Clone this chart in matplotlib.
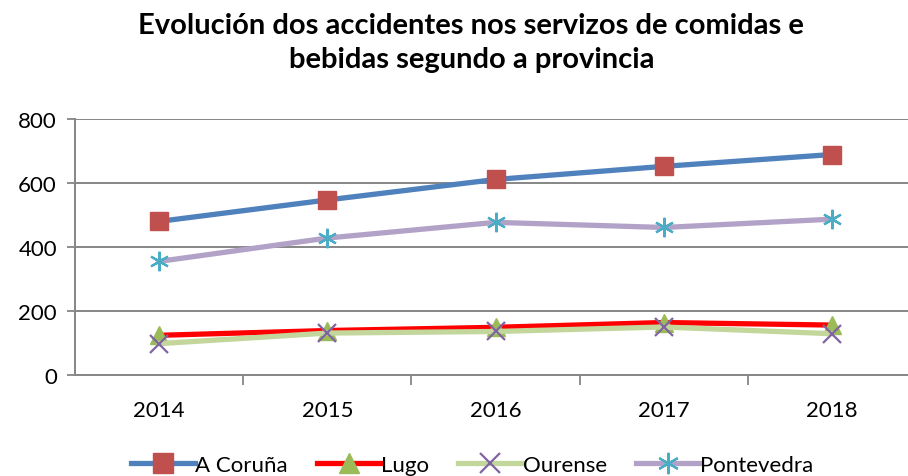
import matplotlib
matplotlib.use("Agg")
import matplotlib.pyplot as plt

# Datos
anos = ["2014", "2015", "2016", "2017", "2018"]
a_coruna = [480, 547, 611, 652, 689]
lugo = [124, 139, 149, 164, 156]
ourense = [98, 131, 136, 150, 129]
pontevedra = [355, 428, 477, 461, 487]

plt.rcParams['font.family'] = ['Lato', 'DejaVu Sans']

fig = plt.figure(figsize=(9.08, 4.77), dpi=100)
ax = fig.add_axes([75 / 908, 1 - 376 / 477, (916 - 75) / 908, 256 / 477])

x = list(range(len(anos)))
ax.plot(x, a_coruna, color='#4F81BD', lw=3.8, marker='s', ms=13,
        mfc='#C0504D', mec='#C0504D', label="A Coruña", zorder=3)
ax.plot(x, lugo, color='#FF0000', lw=3.8, marker='^', ms=13,
        mfc='#9BBB59', mec='#9BBB59', label="Lugo", zorder=3)
ax.plot(x, ourense, color='#C3D69B', lw=3.8, marker='x', ms=13, mew=1.6,
        mfc='#8064A2', mec='#8064A2', label="Ourense", zorder=3)
ax.plot(x, pontevedra, color='#B3A2C7', lw=3.8, marker=(6, 2, 0), ms=14, mew=1.6,
        mfc='#4BACC6', mec='#4BACC6', label="Pontevedra", zorder=3)

ax.set_xlim(-0.5, 4.5)
ax.set_ylim(0, 800)
ax.set_yticks([0, 200, 400, 600, 800])
ax.set_xticks(x)
ax.set_xticklabels(anos)
ax.set_xticks([0.5, 1.5, 2.5, 3.5], minor=True)
ax.tick_params(axis='x', which='major', length=0, pad=18, labelsize=16)
ax.tick_params(axis='x', which='minor', length=7, width=1.3, color='#868686')
ax.tick_params(axis='y', length=6, width=1.3, color='#868686', labelsize=16, pad=7)
ax.grid(axis='y', color='#868686', lw=1.4)
ax.set_axisbelow(True)
for s in ['top', 'right']:
    ax.spines[s].set_visible(False)
for s in ['left', 'bottom']:
    ax.spines[s].set_color('#868686')
    ax.spines[s].set_linewidth(1.4)

fig.text(0.519, 1 - 13 / 477, "Evolución dos accidentes nos servizos de comidas e\nbebidas segundo a provincia",
         ha='center', va='top', fontsize=21, fontweight='bold', linespacing=1.37)

fig.legend(loc='center', bbox_to_anchor=(0.52, 1 - 466 / 477), ncol=4, frameon=False,
           fontsize=16, handlelength=2.9, handletextpad=0.0, columnspacing=1.3,
           markerscale=1.1)

fig.savefig("out.png", dpi=100)
